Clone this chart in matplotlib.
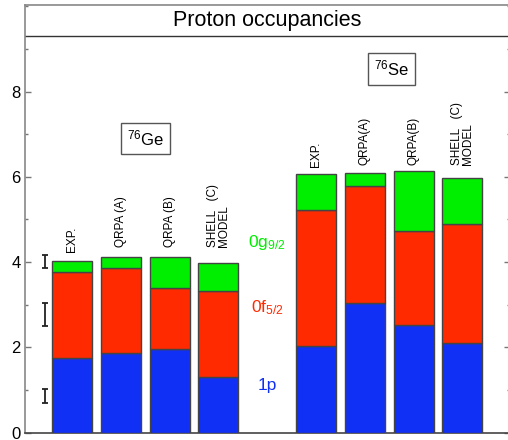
import matplotlib
matplotlib.use("Agg")
import matplotlib.pyplot as plt
from matplotlib.ticker import MultipleLocator

plt.rcParams['font.family'] = ['Liberation Sans', 'DejaVu Sans']
plt.rcParams['mathtext.fontset'] = 'custom'
plt.rcParams['mathtext.rm'] = 'Liberation Sans'
plt.rcParams['mathtext.it'] = 'Liberation Sans'

# Proton occupancies per orbital (76Ge and 76Se)
methods = ["EXP.", "QRPA (A)", "QRPA (B)", "SHELL   (C)\nMODEL"]
methods_se = ["EXP.", "QRPA(A)", "QRPA(B)", "SHELL   (C)\nMODEL"]
ge_1p = [1.74, 1.86, 1.96, 1.31]
ge_0f = [2.03, 1.99, 1.42, 2.01]
ge_0g = [0.25, 0.26, 0.73, 0.65]
se_1p = [2.04, 3.03, 2.52, 2.09]
se_0f = [3.18, 2.76, 2.21, 2.80]
se_0g = [0.84, 0.31, 1.41, 1.07]

# experimental uncertainties (76Ge): centre and half-width
err_centres = [4.02, 2.77, 0.855]
err_halfwidths = [0.155, 0.26, 0.165]

ge_pos = [1, 2, 3, 4]
se_pos = [6, 7, 8, 9]

c_p = "#1030f5"
c_f = "#ff2a00"
c_g = "#00ee00"
edge = "#444444"

fig = plt.figure(figsize=(5.08, 4.40), dpi=100)
ax = fig.add_axes([25 / 508, 7.5 / 440, 485 / 508, 427.5 / 440])

width = 0.82
for pos, p, f, g in ((ge_pos, ge_1p, ge_0f, ge_0g), (se_pos, se_1p, se_0f, se_0g)):
    bottom_f = list(p)
    bottom_g = [a + b for a, b in zip(p, f)]
    ax.bar(pos, p, width, color=c_p, edgecolor=edge, linewidth=1.0, zorder=3)
    ax.bar(pos, f, width, bottom=bottom_f, color=c_f, edgecolor=edge, linewidth=1.0, zorder=3)
    ax.bar(pos, g, width, bottom=bottom_g, color=c_g, edgecolor=edge, linewidth=1.0, zorder=3)

ax.errorbar([0.447] * 3, err_centres, yerr=err_halfwidths, fmt='none',
            ecolor='#222222', elinewidth=1.3, capsize=2.5, capthick=1.3, zorder=4)

# method labels above the bars
ge_label_y = [4.24, 4.35, 4.35, 4.35]
se_label_y = [6.23, 6.28, 6.28, 6.28]
for x, lab, y in zip(ge_pos, methods, ge_label_y):
    ax.text(x, y, lab, rotation=90, ha='center', va='bottom', fontsize=8.5,
            multialignment='left', linespacing=0.8)
for x, lab, y in zip(se_pos, methods_se, se_label_y):
    ax.text(x, y, lab, rotation=90, ha='center', va='bottom', fontsize=8.5,
            multialignment='left', linespacing=0.8)

# nucleus labels
box = dict(boxstyle='square,pad=0.35', facecolor='white', edgecolor='#555555', linewidth=1.0)
ax.text(2.5, 6.9, r"$^{76}$Ge", ha='center', va='center', fontsize=12, bbox=box)
ax.text(7.55, 8.53, r"$^{76}$Se", ha='center', va='center', fontsize=12, bbox=box)

# orbital labels
ax.text(5.0, 4.45, r"0g$_{9/2}$", color=c_g, ha='center', va='center', fontsize=12.5)
ax.text(5.0, 2.92, r"0f$_{5/2}$", color=c_f, ha='center', va='center', fontsize=12.5)
ax.text(5.0, 1.11, "1p", color=c_p, ha='center', va='center', fontsize=12.5)

# title band
ax.axhline(9.3, color='#333333', linewidth=1.0)
ax.text(0.5 * (0.037 + 9.975), 9.67, "Proton occupancies", ha='center', va='center',
        fontsize=15.5)

ax.set_xlim(0.037, 9.975)
ax.set_ylim(0, 10.03)
ax.yaxis.set_minor_locator(MultipleLocator(1))
ax.set_yticks([0, 2, 4, 6, 8])
ax.set_xticks([])
ax.tick_params(axis='y', which='both', direction='in', left=True, right=True,
               color='#777777', labelsize=12, pad=3)
ax.tick_params(axis='y', which='major', length=4, width=1)
ax.tick_params(axis='y', which='minor', length=2.5, width=1)
for side in ('left', 'right', 'top'):
    ax.spines[side].set_color('#888888')
    ax.spines[side].set_linewidth(1.2)
ax.spines['bottom'].set_color('#444444')
ax.spines['bottom'].set_linewidth(1.2)

fig.savefig("out.png", dpi=100)
